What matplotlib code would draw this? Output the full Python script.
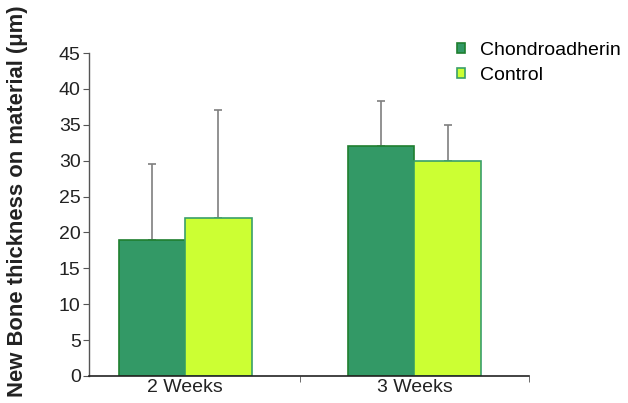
import matplotlib
matplotlib.use("Agg")
import matplotlib.pyplot as plt
import numpy as np
from matplotlib.patches import Patch

plt.rcParams['font.family'] = ['Liberation Sans', 'DejaVu Sans']

categories = ["2 Weeks", "3 Weeks"]
series_names = ["Chondroadherin", "Control"]
chondroadherin = [19, 32]
control = [22, 30]
chondroadherin_err = [10.5, 6.3]
control_err = [15, 5]
y_ticks = [0, 5, 10, 15, 20, 25, 30, 35, 40, 45]

fill_colors = ["#339966", "#CCFF33"]
edge_colors = ["#1f7f2f", "#3a9f6a"]

fig = plt.figure(figsize=(6.28, 4.03), dpi=100)
ax = fig.add_axes([89/628, 27/403, 440/628, 323/403])

x = np.arange(len(categories))
w = 0.29
for vals, errs, off, fc, ec in [
    (chondroadherin, chondroadherin_err, -w/2, fill_colors[0], edge_colors[0]),
    (control, control_err, w/2, fill_colors[1], edge_colors[1]),
]:
    ax.bar(x + off, vals, width=w, color=fc, edgecolor=ec, linewidth=1.2, zorder=2)
    ax.errorbar(x + off, vals, yerr=[np.zeros(len(errs)), errs], fmt='none',
                ecolor='#7f7f7f', elinewidth=1.2, capsize=3, capthick=1.2, zorder=1)

ax.set_xlim(-0.42, 1.5)
ax.set_ylim(0, 45)
ax.set_yticks(y_ticks)
ax.set_xticks(x)
ax.set_xticklabels(categories)
ax.set_xticks([0.5, 1.5], minor=True)
ax.tick_params(axis='x', which='major', length=0, labelsize=14, pad=2, colors='#222222')
ax.tick_params(axis='x', which='minor', length=4, direction='out', color='#555555')
ax.tick_params(axis='y', length=4, direction='out', labelsize=14, pad=2,
               colors='#222222', color='#555555')
for s in ['top', 'right']:
    ax.spines[s].set_visible(False)
ax.spines['left'].set_color('#555555')
ax.spines['bottom'].set_color('#222222')
ax.spines['left'].set_linewidth(1.0)
ax.spines['bottom'].set_linewidth(1.2)

fig.text(18/628, 0.5, "New Bone thickness on material (\u03bcm)", rotation=90,
         ha='center', va='center', fontsize=15.8, fontweight='bold', color='#222222')

handles = [Patch(facecolor=fill_colors[i], edgecolor=edge_colors[i], linewidth=1.2)
           for i in range(2)]
fig.legend(handles, series_names, loc='upper left', bbox_to_anchor=(457/628, 1 - 42/403),
           frameon=False, fontsize=14, handlelength=0.4, handleheight=0.4,
           handletextpad=0.8, labelspacing=0.4, borderpad=0, borderaxespad=0)

fig.savefig("out.png", dpi=100)
